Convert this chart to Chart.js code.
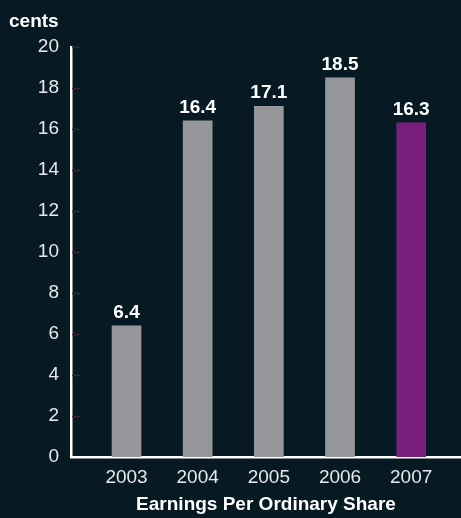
<!DOCTYPE html>
<html>
<head>
<meta charset="utf-8">
<script src="https://cdn.jsdelivr.net/npm/chart.js@4/dist/chart.umd.min.js"></script>
<style>
  html, body { margin: 0; padding: 0; background: #071a24; }
  #wrap { width: 461px; height: 518px; position: relative; }
</style>
</head>
<body>
<div id="wrap"><canvas id="c" width="461" height="518"></canvas></div>
<script>
const years = [2003, 2004, 2005, 2006, 2007];
const eps = [6.4, 16.4, 17.1, 18.5, 16.3];
const barColors = ['#97979b', '#97979b', '#97979b', '#97979b', '#7b1f7c'];
const yTicks = [0, 2, 4, 6, 8, 10, 12, 14, 16, 18, 20];
const yUnit = 'cents';
const xTitle = 'Earnings Per Ordinary Share';

const FONT = "'Liberation Sans', Arial, Helvetica, sans-serif";

const extras = {
  id: 'extras',
  afterDatasetsDraw(chart) {
    const ctx = chart.ctx;
    const ys = chart.scales.y;
    const area = chart.chartArea;
    ctx.save();
    ctx.strokeStyle = '#3b2a2a';
    ctx.lineWidth = 1.5;
    yTicks.forEach(v => {
      if (v === 0) return;
      const py = Math.round(ys.getPixelForValue(v)) + 0.5;
      ctx.beginPath();
      ctx.moveTo(area.left + 1, py);
      ctx.lineTo(area.left + 9, py);
      ctx.stroke();
    });
    const meta = chart.getDatasetMeta(0);
    ctx.fillStyle = '#ffffff';
    ctx.font = "bold 19px " + FONT;
    ctx.textAlign = 'center';
    ctx.textBaseline = 'alphabetic';
    meta.data.forEach((bar, i) => {
      ctx.fillText(String(eps[i].toFixed(1)), bar.x, bar.y - 8);
    });
    ctx.textAlign = 'left';
    ctx.font = "bold 19px " + FONT;
    ctx.fillText(yUnit, 9, 27);
    ctx.restore();
  }
};

new Chart(document.getElementById('c'), {
  type: 'bar',
  data: {
    datasets: [{
      data: years.map((yr, i) => ({ x: yr, y: eps[i] })),
      backgroundColor: barColors,
      borderWidth: 0,
      barThickness: 29
    }]
  },
  options: {
    responsive: false,
    animation: false,
    events: [],
    layout: { padding: { top: 47, left: 0, right: 0, bottom: 0 } },
    plugins: { legend: { display: false }, tooltip: { enabled: false }, title: { display: false } },
    scales: {
      x: {
        type: 'linear',
        offset: false,
        min: 2002.22,
        max: 2007.7,
        afterBuildTicks(scale) { scale.ticks = years.map(v => ({ value: v })); },
        afterFit(scale) { scale.height = 61; },
        grid: { display: false, drawTicks: false, offset: false },
        border: { display: true, color: '#ffffff', width: 2.5 },
        ticks: {
          color: '#e6e8ea',
          font: { family: FONT, size: 19 },
          padding: 9,
          autoSkip: false,
          maxRotation: 0,
          callback: v => String(v)
        },
        title: {
          display: true,
          text: xTitle,
          color: '#ffffff',
          font: { family: FONT, size: 19, weight: 'bold' },
          padding: { top: 0, bottom: 2 }
        }
      },
      y: {
        min: 0,
        max: 20,
        afterBuildTicks(scale) { scale.ticks = yTicks.map(v => ({ value: v })); },
        afterFit(scale) { scale.width = 71; },
        grid: { display: false, drawTicks: false },
        border: { display: true, color: '#ffffff', width: 2.5 },
        ticks: {
          color: '#e6e8ea',
          font: { family: FONT, size: 19 },
          padding: 12
        }
      }
    }
  },
  plugins: [extras]
});
</script>
</body>
</html>
